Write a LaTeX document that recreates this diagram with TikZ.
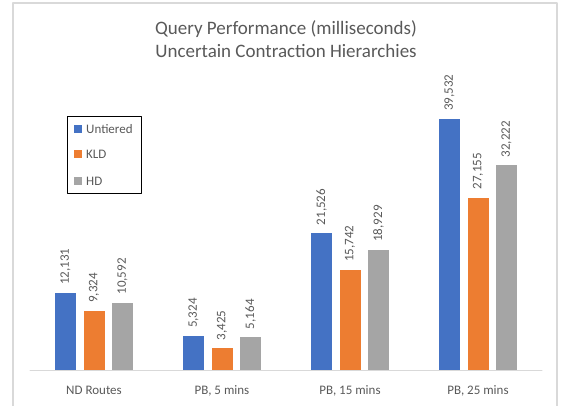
\documentclass[tikz,border=0pt]{standalone}
\usepackage{fontspec}
\setmainfont{Carlito}
\definecolor{serA}{HTML}{4472C4}
\definecolor{serB}{HTML}{ED7D31}
\definecolor{serC}{HTML}{A5A5A5}
\definecolor{txtgray}{HTML}{595959}
\definecolor{linegray}{HTML}{D9D9D9}
\tikzset{
  lbl/.style={inner sep=0pt,text=txtgray,font=\fontsize{13}{15}\selectfont},
  vallbl/.style={lbl,rotate=90,anchor=west},
  ttl/.style={inner sep=0pt,text=txtgray,font=\fontsize{19}{23}\selectfont,anchor=base}
}
\begin{document}
\begin{tikzpicture}[x=1pt,y=1pt,line cap=round,line join=round]
\useasboundingbox (0,0) rectangle (563,405);
\draw[linegray,line width=1.2pt] (13,-10) -- (13,402) -- (557,402) -- (557,-10);
\node[ttl] (title1) at (286,370) {Query Performance (milliseconds)};
\node[ttl] (title2) at (286,347) {Uncertain Contraction Hierarchies};
% axis
\draw[linegray,line width=1pt] (30,35) -- (542,35);
% bars (values in thousands)
\foreach \i/\cat/\va/\vb/\vc/\la/\lb/\lc in {
    0/ND Routes/12.131/9.324/10.592/12{,}131/9{,}324/10{,}592,
    1/{PB, 5 mins}/5.324/3.425/5.164/5{,}324/3{,}425/5{,}164,
    2/{PB, 15 mins}/21.526/15.742/18.929/21{,}526/15{,}742/18{,}929,
    3/{PB, 25 mins}/39.532/27.155/32.222/39{,}532/27{,}155/32{,}222}{
  \pgfmathsetmacro{\cx}{94+128*\i}
  \fill[serA] (\cx-39,35) rectangle (\cx-18,35+\va*6.35);
  \fill[serB] (\cx-10.5,35) rectangle (\cx+10.5,35+\vb*6.35);
  \fill[serC] (\cx+18,35) rectangle (\cx+39,35+\vc*6.35);
  \node[vallbl] (va\i) at (\cx-28.5,43+\va*6.35) {\la};
  \node[vallbl] (vb\i) at (\cx,43+\vb*6.35) {\lb};
  \node[vallbl] (vc\i) at (\cx+28.5,43+\vc*6.35) {\lc};
  \node[lbl,anchor=base] (cat\i) at (\cx,11) {\cat};
}
% legend
\draw[black,line width=0.8pt] (67,212) rectangle (141,289);
\fill[serA] (74,272) rectangle (82,280);
\fill[serB] (74,247) rectangle (82,255);
\fill[serC] (74,220) rectangle (82,228);
\node[lbl,anchor=west] (legA) at (86,276) {Untiered};
\node[lbl,anchor=west] (legB) at (86,251) {KLD};
\node[lbl,anchor=west] (legC) at (86,224) {HD};
\end{tikzpicture}
\end{document}
